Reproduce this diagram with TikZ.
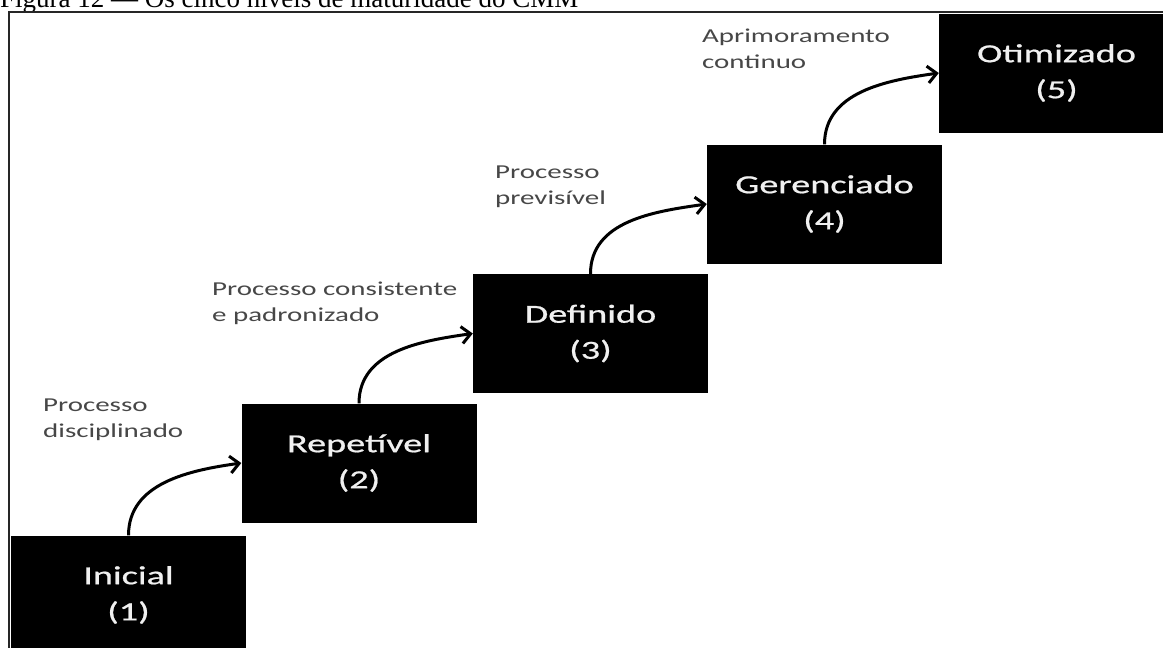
\documentclass[tikz,border=0pt]{standalone}
\usepackage{fontspec}
\setmainfont{Liberation Serif}
\newfontfamily\calib[FakeStretch=1.47]{Carlito}
\newfontfamily\calibcx[FakeStretch=1.47,FakeBold=0.8]{Carlito}
\usetikzlibrary{arrows.meta,positioning}

\begin{document}
\begin{tikzpicture}[x=1pt,y=-1pt,
  nivel/.style={fill=black, minimum width=235pt, minimum height=119pt, inner sep=0pt,
    align=center, text=black!6, font=\calibcx\fontsize{26}{36}\selectfont},
  rotulo/.style={anchor=base west, align=left, inner sep=0pt, text=black!72,
    font=\calib\fontsize{19.7}{26}\selectfont},
  seta/.style={line width=3pt, -{Straight Barb[length=9pt,width=17pt]}}]
\useasboundingbox (0,0) rectangle (1163,648);
\clip (0,0) rectangle (1163,648);
\fill[white] (0,0) rectangle (1163,648);
% legenda cortada no topo
\node[anchor=base west, inner sep=0pt, font=\fontsize{27}{30}\selectfont] (tit) at (0,7)
  {Figura 12 --- Os cinco níveis de maturidade do CMM};
\draw[line width=2pt, black!85] (9,660) -- (9,12) -- (1175,12);
% niveis
\node[nivel] (ini) at (128.5,595) {Inicial\\(1)};
\node[nivel] (rep) at (359,463) {Repetível\\(2)};
\node[nivel] (def) at (590.5,333.5) {Definido\\(3)};
\node[nivel] (ger) at (824.5,204) {Gerenciado\\(4)};
\node[nivel] (oti) at (1056.5,73) {Otimizado\\(5)};
% setas
\draw[seta] (ini.north) to[out=90,in=188] (rep.west);
\draw[seta] (rep.north) to[out=90,in=188] (def.west);
\draw[seta] (def.north) to[out=90,in=188] (ger.west);
\draw[seta] (ger.north) to[out=90,in=188] (oti.west);
% rotulos
\node[rotulo] (r1) at (43,437) {Processo\\disciplinado};
\node[rotulo] (r2) at (212,321) {Processo consistente\\e padronizado};
\node[rotulo] (r3) at (495,204) {Processo\\previsível};
\node[rotulo] (r4) at (702,68) {Aprimoramento\\continuo};
\end{tikzpicture}
\end{document}
